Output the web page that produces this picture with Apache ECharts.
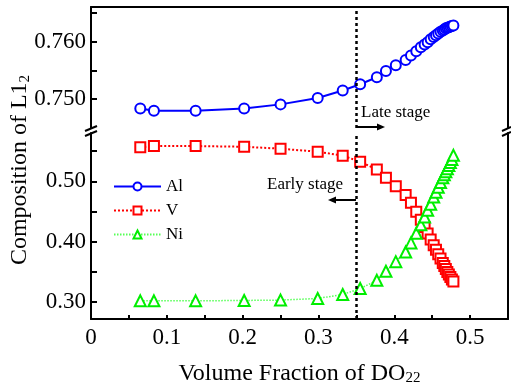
<!DOCTYPE html>
<html>
<head>
<meta charset="utf-8">
<script src="https://cdn.jsdelivr.net/npm/echarts@6/dist/echarts.min.js"></script>
<style>
  html, body { margin: 0; padding: 0; background: #fff; }
  #main { width: 511px; height: 387px; }
</style>
</head>
<body>
<div id="main"></div>
<script>
// volume fraction of DO22 (x)
var fraction = [0.065, 0.083, 0.138, 0.202, 0.250, 0.299, 0.332, 0.355, 0.377, 0.389,
                0.402, 0.415, 0.422, 0.429, 0.435, 0.440, 0.444, 0.448, 0.452, 0.455,
                0.458, 0.461, 0.464, 0.466, 0.468, 0.470, 0.472, 0.474, 0.476, 0.478];
var alValues = [0.7484, 0.7480, 0.7480, 0.7484, 0.7491, 0.7502, 0.7515, 0.7526, 0.7538, 0.7549,
                0.7559, 0.7568, 0.7576, 0.7583, 0.7590, 0.7595, 0.7599, 0.7604, 0.7608, 0.7611,
                0.7614, 0.7617, 0.7619, 0.7621, 0.7623, 0.7624, 0.7625, 0.7626, 0.7627, 0.7628];
var vValues = [0.5563, 0.5584, 0.5584, 0.5572, 0.5540, 0.5490, 0.5425, 0.5325, 0.5195, 0.5060,
               0.4918, 0.4774, 0.4643, 0.4496, 0.4365, 0.4243, 0.4137, 0.4038, 0.3940, 0.3867,
               0.3793, 0.3720, 0.3646, 0.3597, 0.3548, 0.3499, 0.3458, 0.3417, 0.3376, 0.3343];
var niValues = [0.3021, 0.3021, 0.3021, 0.3027, 0.3033, 0.3060, 0.3126, 0.3224, 0.3360, 0.3510,
                0.3670, 0.3830, 0.3980, 0.4140, 0.4280, 0.4410, 0.4520, 0.4620, 0.4740, 0.4820,
                0.4900, 0.4980, 0.5060, 0.5110, 0.5160, 0.5210, 0.5260, 0.5310, 0.5360, 0.5430];

var xLabels = [0, 0.1, 0.2, 0.3, 0.4, 0.5];
var xTicks = [0.05, 0.1, 0.15, 0.2, 0.25, 0.3, 0.35, 0.4, 0.45, 0.5];
var topLabels = [0.750, 0.760];
var topTicks = [0.750, 0.755, 0.760, 0.765];
var bottomLabels = [0.30, 0.40, 0.50];
var bottomTicks = [0.30, 0.35, 0.40, 0.45, 0.50, 0.55];
var stageBoundary = 0.35;

function pairs(xs, ys) {
    var out = [];
    for (var i = 0; i < xs.length; i++) out.push([xs[i], ys[i]]);
    return out;
}

var FONT = 'Liberation Serif';
var chart = echarts.init(document.getElementById('main'));

var boundaryLine = {
    silent: true,
    symbol: 'none',
    label: {show: false},
    lineStyle: {color: '#000', type: [3, 3], width: 2.5},
    data: [{xAxis: stageBoundary}]
};

var option = {
    animation: false,
    textStyle: {fontFamily: FONT},
    grid: [
        {left: 91, right: 3, top: 7, height: 121},
        {left: 91, right: 3, top: 133, height: 188}
    ],
    xAxis: [
        {gridIndex: 0, type: 'value', position: 'top', min: 0, max: 0.55,
         axisLine: {lineStyle: {color: '#000', width: 2}},
         axisTick: {show: false}, axisLabel: {show: false}, splitLine: {show: false}},
        {gridIndex: 1, type: 'value', position: 'bottom', min: 0, max: 0.55,
         axisLine: {lineStyle: {color: '#000', width: 2}},
         axisTick: {inside: true, length: 4, customValues: xTicks, lineStyle: {color: '#000', width: 2}},
         axisLabel: {customValues: xLabels, color: '#000', fontSize: 23, fontFamily: FONT, margin: 7,
                     formatter: function (v) { return v === 0 ? '0' : v.toFixed(1); }},
         splitLine: {show: false},
         name: 'Volume Fraction of DO{sub|22}', nameLocation: 'middle', nameGap: 42,
         nameTextStyle: {color: '#000', fontSize: 24, fontFamily: FONT,
                         rich: {sub: {fontSize: 15, fontFamily: FONT, color: '#000', padding: [10, 0, 0, 0]}}}}
    ],
    yAxis: [
        {gridIndex: 0, type: 'value', position: 'left', min: 0.745, max: 0.766,
         axisLine: {show: true, lineStyle: {color: '#000', width: 2}},
         axisTick: {inside: true, length: 6, customValues: topTicks, lineStyle: {color: '#000', width: 2}},
         axisLabel: {customValues: topLabels, color: '#000', fontSize: 23, fontFamily: FONT, margin: 5,
                     formatter: function (v) { return v.toFixed(3); }},
         splitLine: {show: false}},
        {gridIndex: 1, type: 'value', position: 'left', min: 0.272, max: 0.58,
         axisLine: {show: true, lineStyle: {color: '#000', width: 2}},
         axisTick: {inside: true, length: 6, customValues: bottomTicks, lineStyle: {color: '#000', width: 2}},
         axisLabel: {customValues: bottomLabels, color: '#000', fontSize: 23, fontFamily: FONT, margin: 5,
                     formatter: function (v) { return v.toFixed(2); }},
         splitLine: {show: false}},
        {gridIndex: 0, type: 'value', position: 'right', min: 0.745, max: 0.766,
         axisLine: {show: true, lineStyle: {color: '#000', width: 2}},
         axisTick: {show: false}, axisLabel: {show: false}, splitLine: {show: false}},
        {gridIndex: 1, type: 'value', position: 'right', min: 0.272, max: 0.58,
         axisLine: {show: true, lineStyle: {color: '#000', width: 2}},
         axisTick: {show: false}, axisLabel: {show: false}, splitLine: {show: false}}
    ],
    legend: {
        orient: 'vertical', left: 113, top: 178, padding: 0,
        itemWidth: 47, itemHeight: 10, itemGap: 7,
        textStyle: {color: '#000', fontSize: 17, fontFamily: FONT},
        data: ['Al', 'V', 'Ni']
    },
    series: [
        {name: 'Al', type: 'line', xAxisIndex: 0, yAxisIndex: 0,
         data: pairs(fraction, alValues),
         symbol: 'emptyCircle', symbolSize: 10,
         itemStyle: {color: '#0000ff', borderWidth: 2},
         lineStyle: {color: '#0000ff', width: 2},
         markLine: boundaryLine},
        {name: 'V', type: 'line', xAxisIndex: 1, yAxisIndex: 1,
         data: pairs(fraction, vValues),
         symbol: 'emptyRect', symbolSize: 10,
         itemStyle: {color: '#ff0000', borderWidth: 2},
         lineStyle: {color: '#ff0000', width: 2, type: [2, 2]},
         markLine: boundaryLine},
        {name: 'Ni', type: 'line', xAxisIndex: 1, yAxisIndex: 1,
         data: pairs(fraction, niValues),
         symbol: 'emptyTriangle', symbolSize: 11,
         itemStyle: {color: '#00ee00', borderWidth: 2},
         lineStyle: {color: '#55ff55', width: 1.5, type: [1.5, 1.5]}}
    ],
    graphic: [
        // axis break marks
        {type: 'line', shape: {x1: 85, y1: 131, x2: 97, y2: 126}, style: {stroke: '#000', lineWidth: 2}},
        {type: 'line', shape: {x1: 85, y1: 136, x2: 97, y2: 131}, style: {stroke: '#000', lineWidth: 2}},
        {type: 'line', shape: {x1: 502, y1: 131, x2: 511, y2: 127}, style: {stroke: '#000', lineWidth: 2}},
        {type: 'line', shape: {x1: 502, y1: 136, x2: 511, y2: 132}, style: {stroke: '#000', lineWidth: 2}},
        // y axis title
        {type: 'text', x: 20, y: 170, rotation: Math.PI / 2,
         style: {text: 'Composition of L1{sub|2}', fill: '#000', font: '24px "Liberation Serif"',
                 align: 'center', verticalAlign: 'middle',
                 rich: {sub: {fontSize: 15, fontFamily: FONT, fill: '#000', padding: [10, 0, 0, 0]}}}},
        // stage annotations
        {type: 'text', x: 361, y: 113,
         style: {text: 'Late stage', fill: '#000', font: '17px "Liberation Serif"', verticalAlign: 'middle'}},
        {type: 'line', shape: {x1: 357, y1: 127, x2: 378, y2: 127}, style: {stroke: '#000', lineWidth: 2}},
        {type: 'polygon', shape: {points: [[377, 123.5], [385, 127], [377, 130.5]]}, style: {fill: '#000'}},
        {type: 'text', x: 343, y: 185,
         style: {text: 'Early stage', fill: '#000', font: '17px "Liberation Serif"', align: 'right', verticalAlign: 'middle'}},
        {type: 'line', shape: {x1: 356, y1: 200, x2: 335, y2: 200}, style: {stroke: '#000', lineWidth: 2}},
        {type: 'polygon', shape: {points: [[336, 196.5], [328, 200], [336, 203.5]]}, style: {fill: '#000'}}
    ]
};
chart.setOption(option);
</script>
</body>
</html>
